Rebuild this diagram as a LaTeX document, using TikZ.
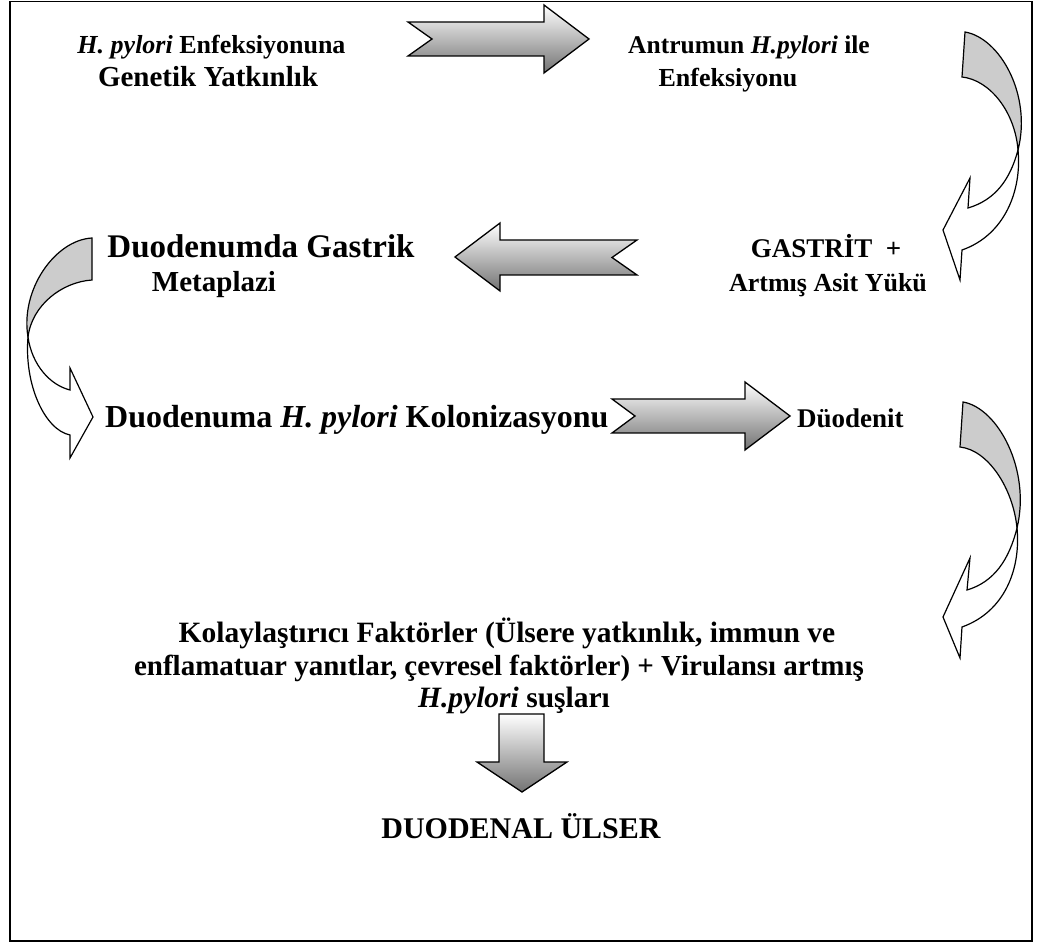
\documentclass[tikz,border=0pt]{standalone}
\usepackage{fontspec}
\setmainfont{Liberation Serif}
\begin{document}
\begin{tikzpicture}[x=1pt,y=-1pt,
  txt/.style={inner sep=0pt, anchor=base, font=\fontsize{#1}{33}\selectfont\bfseries},
  txt/.default=26,
  grad/.style={draw=black, line width=1.3pt, line join=miter, top color=white, bottom color=black!55},
  back/.style={draw=black, line width=1.2pt, fill=black!20, line join=miter},
  front/.style={draw=black, line width=1.2pt, fill=white, line join=miter}]
\useasboundingbox (0,0) rectangle (1042,949);
\draw[line width=1.8pt] (10,1.5) rectangle (1032,941);

% texts
\node[txt=26] (t1a) at (211.5,54) {\textit{H. pylori} Enfeksiyonuna};
\node[txt=29] (t1b) at (208,87) {Genetik Yatkınlık};
\node[txt=25.5] (t2a) at (749,54) {Antrumun \textit{H.pylori} ile};
\node[txt=26] (t2b) at (728,87) {Enfeksiyonu};
\node[txt=33] (t3a) at (261,258) {Duodenumda Gastrik};
\node[txt=29] (t3b) at (214,292) {Metaplazi};
\node[txt=27] (t4a) at (826,258) {GASTRİT\ \ +};
\node[txt=26] (t4b) at (828,292) {Artmış Asit Yükü};
\node[txt=32, anchor=base west] (t5) at (105,428) {Duodenuma \textit{H. pylori} Kolonizasyonu};
\node[txt=27, anchor=base west] (t6) at (797,428) {Düodenit};
\node[txt=29.5] (t7a) at (507,642) {Kolaylaştırıcı Faktörler (Ülsere yatkınlık, immun ve};
\node[txt=29] (t7b) at (499,675) {enflamatuar yanıtlar, çevresel faktörler) + Virulansı artmış};
\node[txt=29.5] (t7c) at (514,707) {\textit{H.pylori} suşları};
\node[txt=30] (t8) at (521,838) {DUODENAL ÜLSER};

% straight block arrows
\draw[grad] (408,22) -- (544,22) -- (544,5) -- (589,39) -- (544,73) -- (544,56) -- (408,56) -- (432,39) -- cycle;
\draw[grad] (455,257) -- (500,223) -- (500,240) -- (637,240) -- (612,257.5) -- (637,275) -- (500,275) -- (500,291) -- cycle;
\draw[grad] (612,399) -- (745,399) -- (745,382) -- (790,416) -- (745,450) -- (745,433) -- (612,433) -- (635,416) -- cycle;
\draw[grad] (499,714) -- (544,714) -- (544,762) -- (567,762) -- (522,792) -- (477,762) -- (499,762) -- cycle;

% curved arrow 1 (top right)
\draw[back] (965,32) .. controls (1000,38) and (1032,95) .. (1018,150)
  .. controls (1015,112) and (990,80) .. (962,77) -- cycle;
\draw[front] (1018,150) .. controls (1010,180) and (995,200) .. (968,208)
  -- (970,178) -- (943,230) -- (960,280) -- (962,250)
  .. controls (1005,235) and (1022,190) .. (1018,150) -- cycle;

% curved arrow 2 (middle right)
\draw[back] (963,402) .. controls (998,408) and (1031,470) .. (1017,528)
  .. controls (1013,488) and (988,450) .. (960,447) -- cycle;
\draw[front] (1017,528) .. controls (1009,560) and (994,582) .. (967,590)
  -- (970,558) -- (943,617) -- (960,658) -- (962,627)
  .. controls (1004,612) and (1021,570) .. (1017,528) -- cycle;

% curved arrow 3 (left)
\draw[back] (92,238) .. controls (55,240) and (20,290) .. (28,337)
  .. controls (32,305) and (62,282) .. (92,280) -- cycle;
\draw[front] (28,337) .. controls (32,365) and (50,385) .. (70,390)
  -- (70,368) -- (93,417) -- (70,458) -- (70,435)
  .. controls (45,430) and (24,385) .. (28,337) -- cycle;
\end{tikzpicture}
\end{document}
